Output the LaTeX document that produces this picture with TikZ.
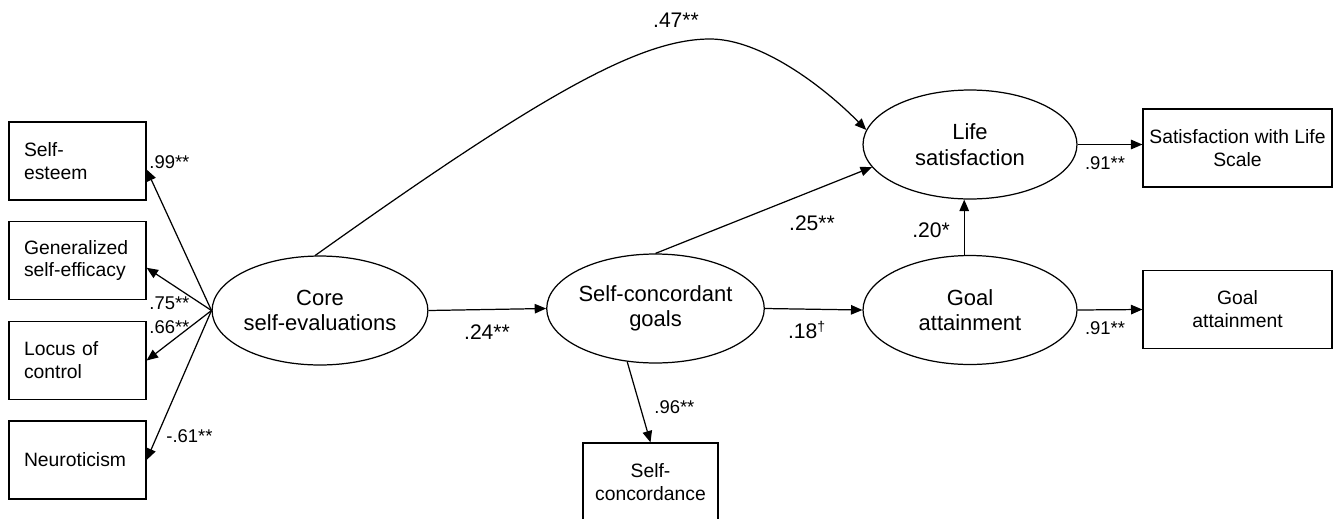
\documentclass[tikz,border=0pt]{standalone}
\usepackage{fontspec}
\setmainfont{Liberation Sans}
\usetikzlibrary{shapes.geometric,arrows.meta}
\begin{document}
\begin{tikzpicture}[x=0.02cm,y=-0.02cm,>={Triangle[length=6.5pt,width=5.4pt]},line width=0.7pt,
  latent/.style={draw,ellipse,minimum width=4.28cm,minimum height=2.18cm,inner sep=0pt,align=center,font=\fontsize{12.5}{14.5}\selectfont},
  obsbox/.style={draw,rectangle,minimum width=2.74cm,minimum height=1.56cm,inner xsep=0.3cm,text width=2.14cm,align=left,font=\fontsize{11}{13}\selectfont},
  obswide/.style={draw,rectangle,minimum width=3.78cm,minimum height=1.56cm,inner xsep=2pt,align=center,font=\fontsize{11}{13}\selectfont},
  coef/.style={font=\fontsize{12}{14}\selectfont,inner sep=1pt},
  coefsm/.style={font=\fontsize{10.5}{12}\selectfont,inner sep=1pt}]
  \useasboundingbox (0,0) rectangle (1335,518);

  % 方框
  \node[obsbox] (se) at (77.5,161) {Self-\\esteem};
  \node[obsbox] (gse) at (77.5,260.5) {Generalized\\self-efficacy};
  \node[obsbox] (loc) at (77.5,360.5) {Locus of\\control};
  \node[obsbox] (neu) at (77.5,460) {Neuroticism};
  \node[obswide] (swls) at (1237.5,148) {Satisfaction with Life\\Scale};
  \node[obswide] (gab) at (1237.5,309.5) {Goal\\attainment};
  \node[obswide,minimum width=2.7cm] (scb) at (650.5,482) {Self-\\concordance};

  % 椭圆
  \node[latent] (core) at (320,310.5) {Core\\self-evaluations};
  \node[latent] (scg) at (655.5,308.5) {Self-concordant\\goals};
  \node[latent] (goal) at (970,310) {Goal\\attainment};
  \node[latent] (life) at (970,144.5) {Life\\satisfaction};

  % 箭头
  \draw[->] (core.west) -- (se.-7);
  \draw[->] (core.west) -- (gse.-6);
  \draw[->] (core.west) -- (loc.east);
  \draw[->] (core.west) -- (neu.east);
  \draw[->] (core.east) -- (scg.west);
  \draw[->] (scg.east) -- (goal.west);
  \draw[->] (scg.242) -- (scb.north);
  \draw[->] (scg.north) -- (life.193);
  \draw[->] (goal.96) -- (goal.96 |- life.south);
  \draw[->] (life.east) -- (life.east -| swls.west);
  \draw[->] (goal.east) -- (gab.west);
  \draw[->] (core.95) .. controls (542,94) and (640,39) .. (710,39)
    .. controls (760,39) and (822,85) .. (life.172);

  % 系数
  \node[coef] (c47) at (676,20) {.47**};
  \node[coefsm,anchor=west] (c99) at (147,162) {.99**};
  \node[coefsm,anchor=west] (c75) at (147,303) {.75**};
  \node[coefsm,anchor=west] (c66) at (147,327) {.66**};
  \node[coefsm,anchor=west] (c61) at (164,436) {-.61**};
  \node[coef] (c24) at (487,332) {.24**};
  \node[coef] (c18) at (807,330) {.18\textsuperscript{\textdagger}};
  \node[coefsm,anchor=west] (c96) at (652,407) {.96**};
  \node[coef] (c25) at (812,223) {.25**};
  \node[coef] (c20) at (931,230) {.20*};
  \node[coefsm] (c91a) at (1105,163) {.91**};
  \node[coefsm] (c91b) at (1105,328) {.91**};
\end{tikzpicture}
\end{document}
